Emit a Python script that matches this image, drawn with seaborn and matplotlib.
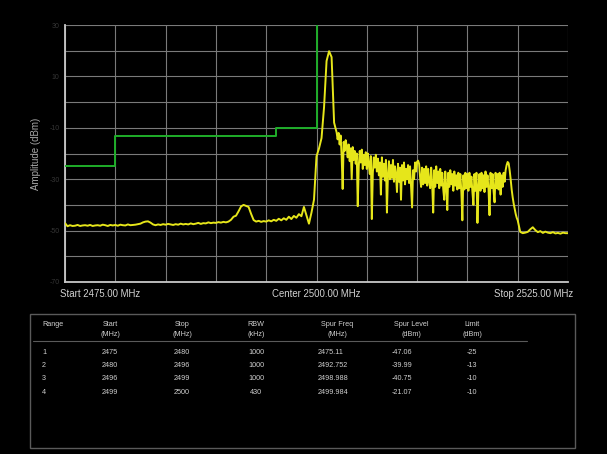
import numpy as np
import pandas as pd
import matplotlib
matplotlib.use("Agg")
import matplotlib.pyplot as plt
from matplotlib.patches import Rectangle
from matplotlib.lines import Line2D
import seaborn as sns

# ---------------- data ----------------
# trace segment A: 2475.00 .. 2501.75 MHz, 0.25 MHz per point
seg_a_start, seg_a_step = 2475.0, 0.25
amp_a = [
    -47.1, -48.3, -47.9, -48.2,   # 2475
    -48.1, -47.8, -48.2, -48.0,   # 2476
    -47.9, -48.1, -47.8, -48.2,   # 2477
    -48.0, -47.9, -48.1, -47.7,   # 2478
    -47.9, -48.2, -47.8, -48.0,   # 2479
    -47.8, -48.1, -47.7, -47.9,   # 2480
    -48.0, -47.6, -47.9, -47.8,   # 2481
    -47.7, -47.5, -47.3, -46.8,   # 2482
    -46.5, -46.4, -46.9, -47.6,   # 2483
    -47.9, -47.6, -47.8, -47.5,   # 2484
    -47.7, -47.4, -47.6, -47.8,   # 2485
    -47.5, -47.7, -47.3, -47.6,   # 2486
    -47.4, -47.6, -47.2, -47.5,   # 2487
    -47.3, -47.0, -47.4, -47.1,   # 2488
    -47.2, -46.8, -47.1, -46.9,   # 2489
    -47.0, -46.7, -46.9, -46.6,   # 2490
    -46.8, -46.5, -45.8, -44.6,   # 2491
    -44.2, -42.5, -40.6, -40.0,   # 2492
    -40.4, -40.8, -43.5, -45.9,   # 2493
    -46.5, -46.2, -46.6, -46.3,   # 2494
    -46.5, -46.0, -46.4, -45.8,   # 2495
    -46.2, -45.4, -46.0, -45.2,   # 2496
    -45.8, -44.6, -45.5, -44.3,   # 2497
    -45.0, -43.6, -44.4, -40.8,   # 2498
    -44.0, -47.3, -43.0, -38.0,   # 2499
    -21.1, -18.0, -14.0, -2.0,    # 2500
    16.0, 19.8, 17.5, -8.0,       # 2501
]
# trace segment B: 2502.0 .. 2519.9 MHz, 0.1 MHz per point
seg_b_start, seg_b_step = 2502.0, 0.1
amp_b = [
    -11.8, -14.5, -12.0, -16.5, -13.0, -21.0, -33.8, -15.5, -19.0, -14.8,   # 2502
    -17.0, -21.5, -16.5, -23.0, -18.0, -30.0, -17.5, -22.5, -19.0, -24.0,   # 2503
    -20.0, -40.5, -25.0, -19.0, -23.5, -18.5, -26.0, -20.5, -24.5, -19.5,   # 2504
    -26.0, -20.0, -24.5, -28.0, -21.0, -45.5, -27.5, -21.5, -25.5, -20.5,   # 2505
    -27.0, -22.0, -28.5, -23.5, -36.0, -21.5, -29.0, -24.0, -30.5, -22.5,   # 2506
    -43.0, -28.5, -23.0, -30.0, -24.5, -29.5, -22.5, -31.0, -25.0, -28.0,   # 2507
    -35.0, -24.0, -31.0, -25.5, -38.0, -24.5, -30.5, -23.5, -32.0, -26.0,   # 2508
    -30.0, -24.5, -31.5, -25.0, -33.0, -41.0, -26.5, -30.0, -23.5, -27.0,   # 2509
    -23.2, -22.8, -24.0, -29.5, -33.0, -25.5, -32.0, -26.0, -31.5, -25.0,   # 2510
    -32.5, -26.0, -31.0, -33.5, -25.5, -32.0, -43.0, -26.5, -33.0, -25.0,   # 2511
    -31.5, -27.0, -33.5, -26.0, -32.5, -27.5, -34.0, -38.0, -27.0, -33.0,   # 2512
    -42.0, -27.5, -33.0, -26.5, -32.0, -28.0, -34.5, -27.0, -32.5, -28.5,   # 2513
    -34.0, -27.5, -33.5, -28.0, -35.0, -46.0, -28.5, -34.0, -27.5, -33.5,   # 2514
    -28.0, -34.5, -27.5, -33.0, -29.0, -35.0, -40.0, -28.0, -34.5, -27.5,   # 2515
    -47.0, -33.0, -28.0, -34.5, -27.5, -33.5, -28.5, -35.0, -27.0, -33.0,   # 2516
    -28.5, -34.0, -44.0, -27.5, -33.5, -28.0, -34.5, -39.0, -27.5, -33.5,   # 2517
    -28.0, -34.0, -27.5, -36.0, -28.5, -33.0, -27.5, -31.0, -26.5, -24.5,   # 2518
    -23.3, -23.8, -26.5, -30.0, -34.0, -37.0, -39.5, -41.5, -43.5, -45.0,   # 2519
]
# trace segment C: 2520.00 .. 2525.00 MHz, 0.25 MHz per point
seg_c_start, seg_c_step = 2520.0, 0.25
amp_c = [
    -46.0, -50.5, -51.0, -50.8,   # 2520
    -50.5, -49.5, -48.7, -49.8,   # 2521
    -50.6, -50.2, -50.9, -50.4,   # 2522
    -50.8, -51.0, -50.6, -51.1,   # 2523
    -50.9, -51.2, -50.8, -51.0,   # 2524
    -51.0,                        # 2525
]

range_id = [1, 2, 3, 4]
range_start = [2475, 2480, 2496, 2499]
range_stop = [2480, 2496, 2499, 2500]
rbw_khz = [1000, 1000, 1000, 430]
spur_freq = ["2475.11", "2492.752", "2498.988", "2499.984"]
spur_level = ["-47.06", "-39.99", "-40.75", "-21.07"]
limit_dbm = [-25, -13, -10, -10]

y_ticks = [-70, -60, -50, -40, -30, -20, -10, 0, 10, 20, 30]
y_tick_labels = ["-70", "", "-50", "", "-30", "", "-10", "", "10", "", "30"]
x_ticks = [2475, 2480, 2485, 2490, 2495, 2500, 2505, 2510, 2515, 2520, 2525]
x_labels = ["Start 2475.00 MHz", "Center 2500.00 MHz", "Stop 2525.00 MHz"]
y_label = "Amplitude (dBm)"

header_1 = ["Range", "Start", "Stop", "RBW", "Spur Freq", "Spur Level", "Limit"]
header_2 = ["", "(MHz)", "(MHz)", "(kHz)", "(MHz)", "(dBm)", "(dBm)"]

# ---------------- frames ----------------
freq = np.concatenate([
    seg_a_start + seg_a_step * np.arange(len(amp_a)),
    seg_b_start + seg_b_step * np.arange(len(amp_b)),
    seg_c_start + seg_c_step * np.arange(len(amp_c)),
])
trace = pd.DataFrame({"freq": freq, "amp": amp_a + amp_b + amp_c})

lim_x, lim_y = [], []
for s, e, l in zip(range_start, range_stop, limit_dbm):
    lim_x += [s, e]
    lim_y += [l, l]
lim_x.append(range_stop[-1])
lim_y.append(y_ticks[-1])
limit_df = pd.DataFrame({"freq": lim_x, "amp": lim_y})

# ---------------- style ----------------
sns.set_theme(style="dark")
plt.rcParams["font.family"] = ["Liberation Sans", "DejaVu Sans"]

W, H = 607, 454
fig = plt.figure(figsize=(W / 100, H / 100), dpi=100, facecolor="black")
ax = fig.add_axes([65 / W, 1 - 282 / H, 503 / W, 257 / H])
ax.set_facecolor("black")

sns.lineplot(data=limit_df, x="freq", y="amp", ax=ax, color="#1fae2a",
             linewidth=1.4, estimator=None, sort=False, zorder=3)
sns.lineplot(data=trace, x="freq", y="amp", ax=ax, color="#e6e61a",
             linewidth=1.4, estimator=None, sort=False, zorder=4)

ax.set_xlim(x_ticks[0], x_ticks[-1])
ax.set_ylim(y_ticks[0], y_ticks[-1])
ax.set_xticks(x_ticks)
ax.set_xticklabels([])
ax.set_yticks(y_ticks)
ax.set_yticklabels(y_tick_labels, fontsize=5, color="#363636")
ax.tick_params(axis="both", length=0, pad=4)
ax.grid(True, color="#7a7a7a", linewidth=0.8)
ax.set_axisbelow(True)
for side in ["top", "right"]:
    ax.spines[side].set_visible(False)
for side in ["left", "bottom"]:
    ax.spines[side].set_color("#c8c8c8")
    ax.spines[side].set_linewidth(1.3)
ax.set_xlabel("")
ax.set_ylabel(y_label, color="#a8a8a8", fontsize=7)
ax.yaxis.set_label_coords(-0.047, 0.5)

# frequency annotations under the axis
lab_kw = dict(color="#d2d2d2", fontsize=6.9, va="center", transform=ax.transAxes)
ax.text(-0.01, -0.047, x_labels[0], ha="left", **lab_kw)
ax.text(0.5, -0.047, x_labels[1], ha="center", **lab_kw)
ax.text(1.01, -0.047, x_labels[2], ha="right", **lab_kw)


def fx(x):
    return x / W


def fy(y):
    return 1 - y / H


# ---------------- table ----------------
fig.patches.append(Rectangle((fx(30), fy(448)), fx(575) - fx(30), fy(314) - fy(448),
                             transform=fig.transFigure, fill=False,
                             edgecolor="#5a5a5a", linewidth=1.0))
fig.lines.append(Line2D([fx(33), fx(527)], [fy(341), fy(341)],
                        transform=fig.transFigure, color="#5a5a5a", linewidth=0.8))

col_x = [42, 110, 182, 256, 337, 411, 472]
col_ha = ["left", "center", "center", "center", "center", "center", "center"]
tkw = dict(color="#cfcfcf", fontsize=5.2, va="center")
for x, ha, h1, h2 in zip(col_x, col_ha, header_1, header_2):
    fig.text(fx(x), fy(325), h1, ha=ha, **tkw)
    if h2:
        fig.text(fx(x), fy(334.5), h2, ha=ha, **tkw)

row_y = [352, 365.5, 379, 392]
val_x = [42, 110, 182, 256, 318, 392, 467]
val_ha = ["left", "center", "center", "center", "left", "left", "left"]
for i, y in enumerate(row_y):
    vals = [str(range_id[i]), str(range_start[i]), str(range_stop[i]), str(rbw_khz[i]),
            spur_freq[i], spur_level[i], str(limit_dbm[i])]
    for x, ha, v in zip(val_x, val_ha, vals):
        fig.text(fx(x), fy(y), v, ha=ha, **tkw)

fig.savefig("out.png", dpi=100, facecolor="black")
